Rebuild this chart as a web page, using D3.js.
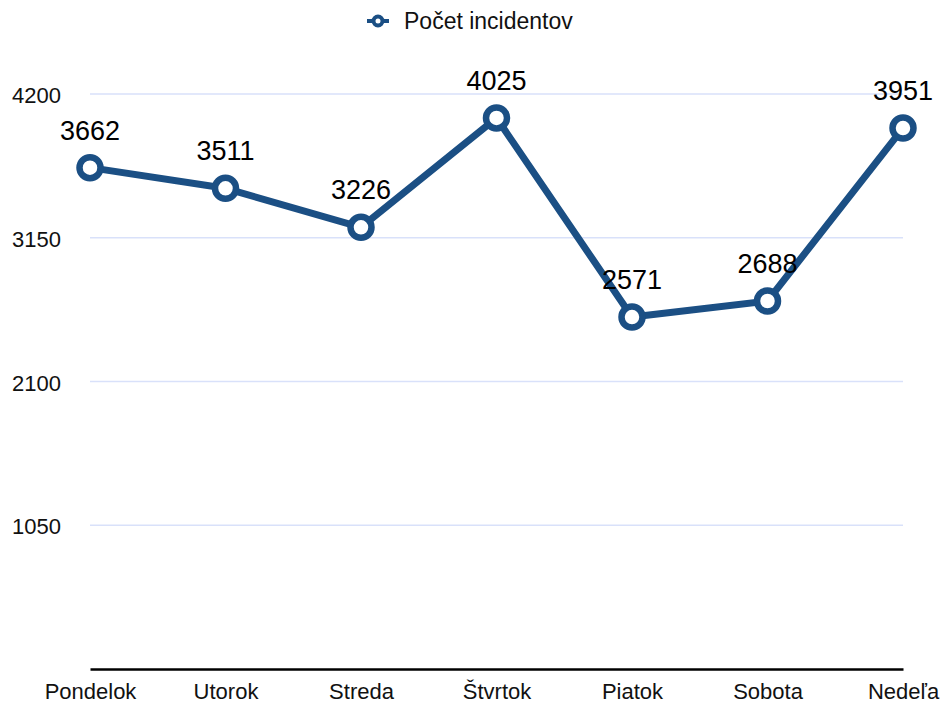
<!DOCTYPE html>
<html>
<head>
<meta charset="utf-8">
<script src="https://cdn.jsdelivr.net/npm/d3@7"></script>
<style>
	body { margin: 0; background: #fff; }
	svg { display: block; font-family: "Liberation Sans", Arial, Helvetica, sans-serif; }
</style>
</head>
<body>
<div id="chart"></div>
<script>
const W = 941, H = 704;
const margin = { top: 94, right: 38, bottom: 35, left: 90 };

const days = ["Pondelok", "Utorok", "Streda", "Štvrtok", "Piatok", "Sobota", "Nedeľa"];
const incidents = [3662, 3511, 3226, 4025, 2571, 2688, 3951];
const yTicks = [1050, 2100, 3150, 4200];
const seriesName = "Počet incidentov";

const lineColor = "#1b4f84";

const svg = d3.select("#chart").append("svg")
	.attr("width", W)
	.attr("height", H);

const x = d3.scalePoint()
	.domain(days)
	.range([margin.left, W - margin.right]);

const y = d3.scaleLinear()
	.domain([0, 4200])
	.range([H - margin.bottom, margin.top]);

// gridlines
svg.append("g")
	.selectAll("line")
	.data(yTicks)
	.enter()
	.append("line")
	.attr("x1", margin.left)
	.attr("x2", W - margin.right)
	.attr("y1", d => y(d))
	.attr("y2", d => y(d))
	.attr("stroke", "#d9e1fa")
	.attr("stroke-width", 1.5);

// y labels, left aligned
svg.append("g")
	.selectAll("text")
	.data(yTicks)
	.enter()
	.append("text")
	.attr("x", 12)
	.attr("y", d => y(d) + 9)
	.attr("font-size", 22)
	.attr("fill", "#111")
	.text(d => d);

// x axis
svg.append("g")
	.attr("transform", `translate(0,${y(0)})`)
	.call(d3.axisBottom(x).tickSize(0))
	.call(g => g.select(".domain").attr("stroke", "#000").attr("stroke-width", 2.5))
	.selectAll("text")
	.attr("dy", null)
	.attr("y", 30)
	.attr("font-size", 22)
	.attr("fill", "#111")
	.attr("font-family", "\"Liberation Sans\", Arial, sans-serif");

const pts = days.map((d, i) => ({ day: d, v: incidents[i] }));

const line = d3.line().x(d => x(d.day)).y(d => y(d.v));

svg.append("path")
	.datum(pts)
	.attr("d", line)
	.attr("fill", "none")
	.attr("stroke", lineColor)
	.attr("stroke-width", 7)
	.attr("stroke-linejoin", "round");

svg.append("g")
	.selectAll("circle")
	.data(pts)
	.enter()
	.append("circle")
	.attr("cx", d => x(d.day))
	.attr("cy", d => y(d.v))
	.attr("r", 10.5)
	.attr("fill", "#fff")
	.attr("stroke", lineColor)
	.attr("stroke-width", 6.5);

svg.append("g")
	.selectAll("text")
	.data(pts)
	.enter()
	.append("text")
	.attr("x", d => x(d.day))
	.attr("y", d => y(d.v) - 28)
	.attr("text-anchor", "middle")
	.attr("font-size", 27)
	.attr("fill", "#000")
	.text(d => d.v);

// legend
const lg = svg.append("g").attr("transform", "translate(378,21)");
lg.append("line")
	.attr("x1", -11).attr("x2", 11)
	.attr("stroke", lineColor)
	.attr("stroke-width", 4);
lg.append("circle")
	.attr("r", 4.5)
	.attr("fill", "#fff")
	.attr("stroke", lineColor)
	.attr("stroke-width", 4);
lg.append("text")
	.attr("x", 26)
	.attr("y", 7.5)
	.attr("font-size", 23)
	.attr("fill", "#111")
	.text(seriesName);
</script>
</body>
</html>
